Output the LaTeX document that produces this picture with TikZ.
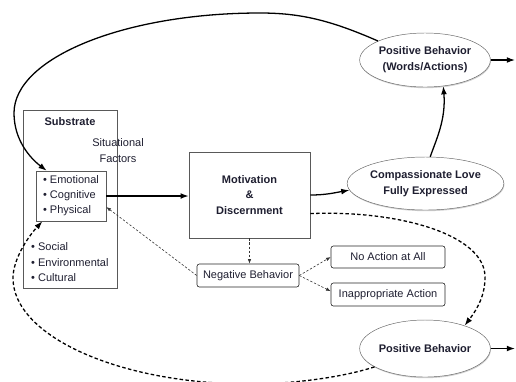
\documentclass[tikz,border=0pt]{standalone}
\usepackage{fontspec}
\setmainfont{Liberation Sans}
\usetikzlibrary{arrows.meta,shapes.geometric,shadows}
\definecolor{ink}{HTML}{1E1E30}
\tikzset{
	txt/.style={font=\fontsize{9.4}{13.2}\selectfont,text=ink},
	bold/.style={font=\fontsize{9.4}{13.6}\selectfont\bfseries,text=ink},
	box/.style={txt,draw=black!65,line width=0.5pt,inner sep=0pt,align=center},
	rbox/.style={box,draw=black!85,rounded corners=2pt},
	oval/.style={bold,ellipse,draw=black!60,fill=white,inner sep=0pt,align=center,minimum width=3.84cm,
		drop shadow={shadow xshift=0.5pt,shadow yshift=-1pt,fill=black!30,opacity=0.6}},
	mainarrow/.style={-{Latex[length=7pt,width=5pt]},line width=1.1pt},
	bigdash/.style={mainarrow,dash pattern=on 3pt off 2pt},
	thindash/.style={-{Latex[length=4pt,width=3pt]},black!80,line width=0.5pt,dash pattern=on 2pt off 1.5pt}
}
\begin{document}
\begin{tikzpicture}[x=0.03cm,y=-0.03cm]
	\clip (0,0) rectangle (516,381);
	\node[box,minimum width=2.82cm,minimum height=5.34cm] (sub) at (70,199) {};
	\node[bold] (subname) at (70,122) {Substrate};
	\node[txt,align=center] (sit) at (118,150.5) {Situational\\Factors};
	\node[box,font=\fontsize{9.4}{12.8}\selectfont,align=left,minimum width=2.1cm,minimum height=1.5cm] (inner) at (71,196) {• Emotional\\• Cognitive\\• Physical};
	\node[txt,align=left,inner sep=0pt,anchor=west] (outer) at (31,262.5) {• Social\\• Environmental\\• Cultural};
	\node[box,font=\fontsize{9.4}{13.2}\selectfont\bfseries,minimum width=3.63cm,minimum height=2.58cm] (mot) at (249.5,195) {Motivation\\\&\\Discernment};
	\node[rbox,minimum width=3.06cm,minimum height=0.69cm] (neg) at (248,275.5) {Negative Behavior};
	\node[rbox,minimum width=3.42cm,minimum height=0.66cm] (noact) at (388,257) {No Action at All};
	\node[rbox,minimum width=3.42cm,minimum height=0.69cm] (inapp) at (388,294.5) {Inappropriate Action};
	\node[oval,minimum height=1.62cm] (posw) at (425,60) {Positive Behavior\\(Words/Actions)};
	\node[oval,minimum width=3.87cm,minimum height=1.59cm] (comp) at (425.5,183.5) {Compassionate Love\\Fully Expressed};
	\node[oval,minimum height=1.71cm] (botp) at (425,348.5) {Positive Behavior};
	\coordinate (outw) at (515,60);
	\coordinate (outb) at (515,348.5);

	\draw[mainarrow] (inner.east) -- (inner.east -| mot.west);
	\draw[mainarrow] (mot.east) to[out=0,in=190] (comp.185);
	\draw[mainarrow] (comp.80) .. controls (436,140) and (446,120) .. (posw.-55);
	\draw[mainarrow] (posw.east) -- (outw);
	\draw[mainarrow] (botp.east) -- (outb);
	\draw[mainarrow] (posw.158) .. controls (330,20) and (300,13) .. (260,13)
		.. controls (124,13) and (14,58) .. (14,113)
		.. controls (14,140) and (30,158) .. ([xshift=0.33cm]inner.north west);
	\draw[bigdash] (mot.-17) .. controls (400,210) and (485,235) .. (485,277)
		.. controls (485,295) and (478,308) .. (botp.30);
	\draw[bigdash] (botp.200) .. controls (340,378) and (290,384) .. (250,384)
		.. controls (119,384) and (13,336) .. (13,278)
		.. controls (13,260) and (27,238) .. ([xshift=0.2cm]inner.south west);
	\draw[thindash] (mot.south) -- (mot.south |- neg.north);
	\draw[thindash] (neg.west) -- ([yshift=-0.33cm]inner.east);
	\draw[thindash] (neg.east) -- (noact.west);
	\draw[thindash] (neg.east) -- ([yshift=0.1cm]inapp.west);
\end{tikzpicture}
\end{document}
